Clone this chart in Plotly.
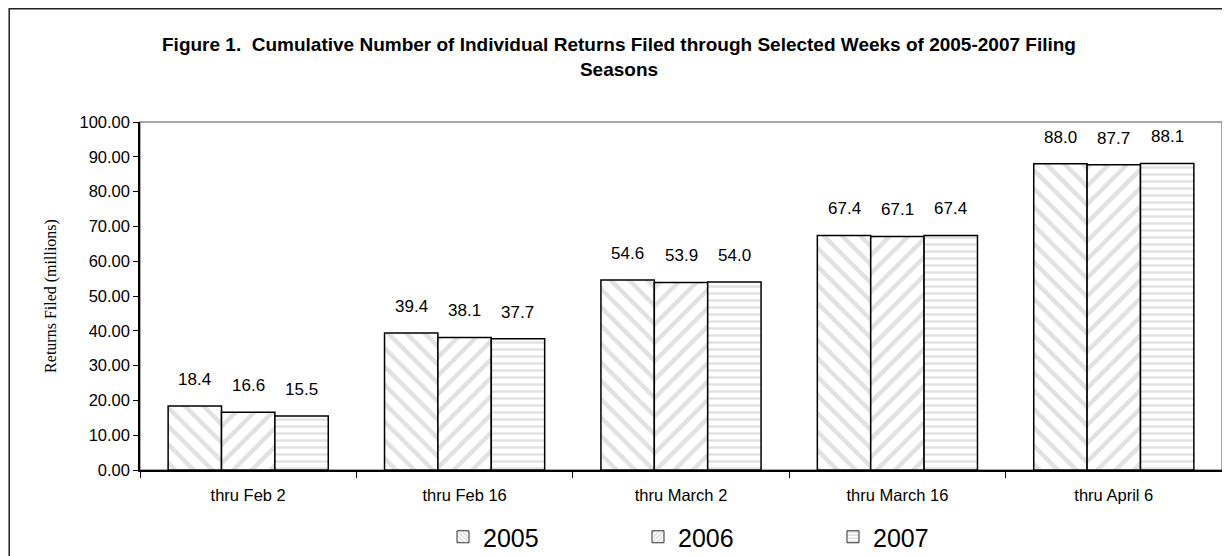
import plotly.graph_objects as go

categories = ["thru Feb 2", "thru Feb 16", "thru March 2", "thru March 16", "thru April 6"]
years = ["2005", "2006", "2007"]
values_2005 = [18.4, 39.4, 54.6, 67.4, 88.0]
values_2006 = [16.6, 38.1, 53.9, 67.1, 87.7]
values_2007 = [15.5, 37.7, 54.0, 67.4, 88.1]
series = [values_2005, values_2006, values_2007]
patterns = ["\\", "/", "-"]
pattern_sizes = [13, 13, 7]

y_ticks = [0, 10, 20, 30, 40, 50, 60, 70, 80, 90, 100]

FONT = "Liberation Sans, Arial, sans-serif"
SERIF = "Liberation Serif, Times New Roman, serif"

# page body has an 8px margin, so the figure is laid out in coords shifted by 8px
W, H = 1222, 548
L, T, R, B = 132, 114, 8, 86
PW, PH = W - L - R, H - T - B

fig = go.Figure()
for yr, vals, pat, psz in zip(years, series, patterns, pattern_sizes):
    fig.add_trace(go.Bar(
        name=yr, x=categories, y=vals, showlegend=False,
        marker=dict(
            color="white",
            line=dict(color="black", width=1.5),
            pattern=dict(shape=pat, fgcolor="#c4c4c4", bgcolor="white", size=psz, solidity=0.35),
        ),
    ))

# legend-only entries (finer pattern so it is visible in the small legend swatch)
for yr, pat in zip(years, patterns):
    fig.add_trace(go.Bar(
        name=yr, x=[categories[0]], y=[None], xaxis="x2", yaxis="y2",
        marker=dict(
            color="white",
            line=dict(color="#333333", width=1),
            pattern=dict(shape=pat, fgcolor="#b0b0b0", bgcolor="white", size=4, solidity=0.4),
        ),
    ))

# value labels above bars
bargap = 0.26
bw = (1 - bargap) / 3
for j, vals in enumerate(series):
    off = (j - 1) * bw
    for i, v in enumerate(vals):
        fig.add_annotation(
            x=i + off, y=v, text=f"{v:.1f}", showarrow=False,
            yanchor="bottom", yshift=15, xref="x", yref="y",
            font=dict(family=FONT, size=17, color="black"),
        )

# gray plot-area border
fig.add_shape(type="rect", xref="paper", yref="paper", x0=0, x1=1, y0=0, y1=1,
              line=dict(color="#8c8c8c", width=1.5), layer="below")
# outer chart frame
fig.add_shape(type="rect", xref="paper", yref="paper",
              x0=(1.2 - L) / PW, x1=1.2, y0=-0.5, y1=(PH + T - 0.8) / PH,
              line=dict(color="#222222", width=1.5), layer="above")

fig.update_layout(
    width=W, height=H,
    margin=dict(l=L, r=R, t=T, b=B, autoexpand=False),
    paper_bgcolor="white", plot_bgcolor="white",
    barmode="group", bargap=bargap, bargroupgap=0,
    title=dict(
        text="Figure 1.  Cumulative Number of Individual Returns Filed through Selected Weeks of 2005-2007 Filing<br>Seasons",
        x=0.5, xref="container", xanchor="center",
        y=1 - 43 / H, yref="container", yanchor="top",
        font=dict(family=FONT, size=19, color="black", weight="bold"),
    ),
    font=dict(family=FONT, size=16, color="black"),
    xaxis=dict(
        showline=True, linecolor="black", linewidth=1.5,
        ticks="outside", tickson="boundaries", ticklen=6, tickcolor="black",
        showgrid=False, tickfont=dict(family=FONT, size=16.5),
        ticklabelstandoff=9,
    ),
    yaxis=dict(
        range=[0, 100], tickvals=y_ticks, tickformat=".2f",
        showline=True, linecolor="black", linewidth=1.5,
        ticks="outside", ticklen=5, tickcolor="black",
        showgrid=False, zeroline=False,
        tickfont=dict(family=FONT, size=16.5),
        title=dict(text="Returns Filed (millions)",
                   font=dict(family=SERIF, size=16),
                   standoff=19),
    ),
    xaxis2=dict(overlaying="x", visible=False),
    yaxis2=dict(overlaying="y", visible=False, range=[0, 1]),
    legend=dict(
        orientation="h", x=(443 - 8 - L) / PW, xanchor="left",
        y=-(537 - 470) / PH, yanchor="middle",
        font=dict(family=FONT, size=25),
        entrywidth=150, entrywidthmode="pixels",
        bgcolor="rgba(0,0,0,0)",
    ),
)

fig.write_html("out.html")
